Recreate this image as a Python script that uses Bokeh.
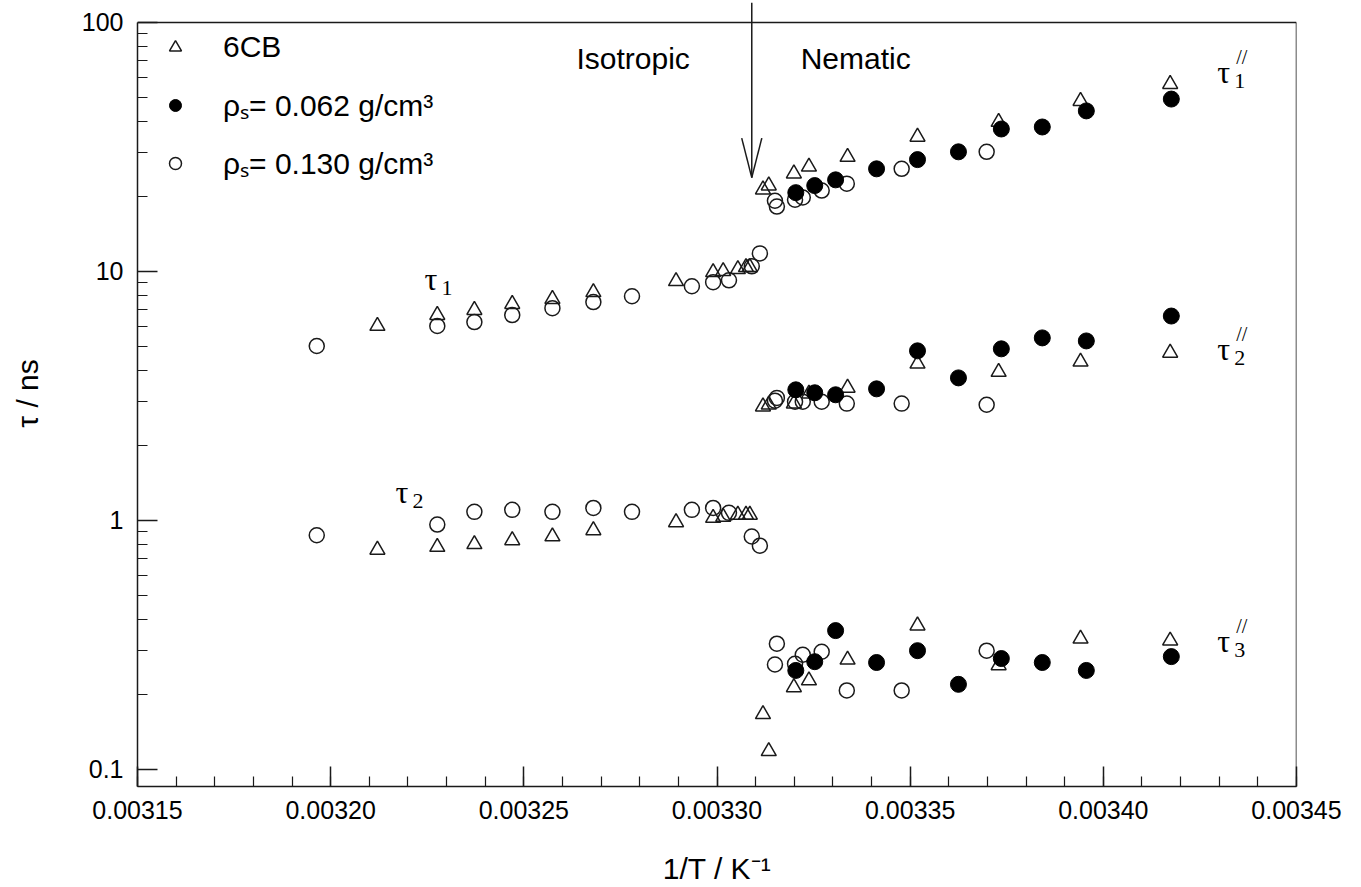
import numpy as np
from bokeh.plotting import figure
from bokeh.models import (Range1d, FixedTicker, PrintfTickFormatter, CustomJSTickFormatter,
                          Legend, LegendItem)
from bokeh.core.properties import value
from bokeh.embed import file_html
from bokeh.resources import INLINE

# ---------------- data (1/T in K^-1, tau in ns) ----------------
# 6CB (open triangles)
cb_iso_x = [0.0032121, 0.0032276, 0.0032372, 0.0032470, 0.0032574, 0.0032680,
            0.0032894, 0.0032990, 0.0033016, 0.0033054, 0.0033075, 0.0033085]
cb_iso_tau1 = [6.03, 6.67, 6.98, 7.38, 7.73, 8.24, 9.12, 9.91, 10.0, 10.19, 10.38, 10.38]
cb_iso_tau2 = [0.76, 0.78, 0.80, 0.83, 0.86, 0.91, 0.98, 1.02, 1.03, 1.05, 1.05, 1.05]
cb_nem_x = [0.0033119, 0.0033134, 0.0033199, 0.0033238, 0.0033338, 0.0033519,
            0.0033729, 0.0033941, 0.0034173]
cb_nem_tau1 = [21.3, 22.1, 24.7, 26.3, 28.8, 34.7, 39.8, 48.3, 56.5]
cb_nem_tau2 = [2.86, 2.91, 2.94, 3.22, 3.40, 4.25, 3.94, 4.33, 4.70]
cb_nem_tau3 = [0.166, 0.118, 0.213, 0.227, 0.275, 0.377, 0.261, 0.334, 0.328]

# rho_s = 0.062 g/cm3 (filled circles)
s062_x = [0.0033204, 0.0033253, 0.0033307, 0.0033413, 0.0033519, 0.0033625,
          0.0033736, 0.0033842, 0.0033956, 0.0034176]
s062_tau1 = [20.7, 22.1, 23.3, 25.8, 28.1, 30.2, 37.3, 38.0, 44.1, 49.2]
s062_tau2 = [3.34, 3.25, 3.19, 3.37, 4.79, 3.73, 4.88, 5.40, 5.25, 6.61]
s062_tau3 = [0.249, 0.270, 0.360, 0.268, 0.299, 0.219, 0.278, 0.268, 0.249, 0.283]

# rho_s = 0.130 g/cm3 (open circles)
s130_iso_x = [0.0031964, 0.0032276, 0.0032372, 0.0032470, 0.0032574, 0.0032680, 0.0032780,
              0.0032935, 0.0032990, 0.0033031, 0.0033090, 0.0033111]
s130_iso_tau1 = [5.01, 6.03, 6.25, 6.67, 7.11, 7.52, 7.94, 8.71, 9.04, 9.20, 10.47, 11.8]
s130_iso_tau2 = [0.87, 0.96, 1.08, 1.10, 1.08, 1.12, 1.08, 1.10, 1.12, 1.07, 0.86, 0.79]
s130_nem_x = [0.0033150, 0.0033155, 0.0033202, 0.0033222, 0.0033271, 0.0033336,
              0.0033478, 0.0033698]
s130_nem_tau1 = [19.2, 18.2, 19.4, 19.8, 21.1, 22.5, 25.8, 30.2]
s130_nem_tau2 = [3.02, 3.10, 2.99, 2.99, 2.99, 2.94, 2.94, 2.91]
s130_nem_tau3 = [0.263, 0.319, 0.265, 0.288, 0.296, 0.207, 0.207, 0.299]

# axis ticks
x_major = [0.00315, 0.00320, 0.00325, 0.00330, 0.00335, 0.00340, 0.00345]
y_major = [0.1, 1, 10, 100]
x_lo, x_hi = 0.00315, 0.00345
y_lo, y_hi = 0.0851, 100.0

# annotations
legend_labels = ["6CB", "\u03c1\u209b= 0.062 g/cm\u00b3", "\u03c1\u209b= 0.130 g/cm\u00b3"]
phase_text = ["Isotropic", "Nematic"]
phase_x = [0.0032783, 0.0033359]
phase_y = [71.8, 71.8]
transition_x = 0.0033090
arrow_top_y = 120.0
arrow_tip_y = 23.8
tau_sub = ["1", "2", "1", "2", "3"]
tau_x = [0.0032243, 0.0032168, 0.0034295, 0.0034295, 0.0034295]
tau_y = [9.29, 1.294, 63.1, 4.88, 0.328]
tau_sup = ["", "", "//", "//", "//"]

INK = "#1a1a1a"
SANS = "Liberation Sans"
SERIF = "Liberation Serif"

# frame reaches the top of the canvas so the arrow can rise above the box
top_pad = 10 ** (22 / 250)
p = figure(width=1361, height=887, y_axis_type="log",
           x_range=Range1d(x_lo - 1e-10, x_hi + 1e-10),
           y_range=Range1d(y_lo, y_hi * top_pad),
           output_backend="svg", toolbar_location=None,
           min_border_left=137, min_border_right=65, min_border_top=0, min_border_bottom=98)
p.xgrid.visible = False
p.ygrid.visible = False
p.outline_line_color = None
p.background_fill_color = "white"
p.border_fill_color = "white"

minor_x = [round(0.00315 + i * 0.00001, 6) for i in range(31)]
p.xaxis.ticker = FixedTicker(ticks=x_major, minor_ticks=minor_x)
p.xaxis.formatter = PrintfTickFormatter(format="%.5f")
minor_y = [m * d for d in (0.1, 1, 10) for m in range(2, 10)]
p.yaxis.ticker = FixedTicker(ticks=y_major, minor_ticks=minor_y)
p.yaxis.formatter = CustomJSTickFormatter(code="return tick.toString()")
p.yaxis.bounds = (y_lo, y_hi)

for ax in (p.xaxis[0], p.yaxis[0]):
    ax.axis_line_color = INK
    ax.axis_line_width = 1.5
    ax.major_tick_line_color = INK
    ax.minor_tick_line_color = INK
    ax.major_tick_line_width = 1.5
    ax.minor_tick_line_width = 1.2
    ax.major_tick_in = 20
    ax.major_tick_out = 0
    ax.minor_tick_in = 10
    ax.minor_tick_out = 0
    ax.major_label_text_font = SANS
    ax.major_label_text_font_size = "25px"
    ax.major_label_text_color = "black"
    ax.axis_label_text_font = SANS
    ax.axis_label_text_font_size = "30px"
    ax.axis_label_text_font_style = "normal"
    ax.axis_label_text_color = "black"

p.xaxis.axis_label = "1/T / K\u207b\u00b9"
p.yaxis.axis_label = "\u03c4 / ns"
p.xaxis.major_label_standoff = 14
p.yaxis.major_label_standoff = 14
p.xaxis.axis_label_standoff = 30
p.yaxis.axis_label_standoff = 35

# top and right sides of the box
p.segment(x0=[x_lo, x_hi], y0=[y_hi, y_lo], x1=[x_hi, x_hi], y1=[y_hi, y_hi],
          line_color=INK, line_width=1.5)

tri = dict(marker="triangle", size=15, line_color=INK, line_width=1.5, fill_color=None)
opc = dict(marker="circle", size=15, line_color=INK, line_width=1.5, fill_color=None)
fil = dict(marker="circle", size=16, line_color="black", line_width=1, fill_color="black")

r_cb = p.scatter(cb_iso_x + cb_nem_x, cb_iso_tau1 + cb_nem_tau1, **tri)
p.scatter(cb_iso_x + cb_nem_x, cb_iso_tau2 + cb_nem_tau2, **tri)
p.scatter(cb_nem_x, cb_nem_tau3, **tri)

r_130 = p.scatter(s130_iso_x + s130_nem_x, s130_iso_tau1 + s130_nem_tau1, **opc)
p.scatter(s130_iso_x + s130_nem_x, s130_iso_tau2 + s130_nem_tau2, **opc)
p.scatter(s130_nem_x, s130_nem_tau3, **opc)

r_062 = p.scatter(s062_x, s062_tau1, **fil)
p.scatter(s062_x, s062_tau2, **fil)
p.scatter(s062_x, s062_tau3, **fil)

# legend (location measured from the bottom-left of the frame)
legend = Legend(items=[LegendItem(label=legend_labels[0], renderers=[r_cb]),
                       LegendItem(label=legend_labels[1], renderers=[r_062]),
                       LegendItem(label=legend_labels[2], renderers=[r_130])],
                location=(23, 603), orientation="vertical",
                glyph_width=30, glyph_height=40, label_height=40, spacing=17,
                padding=0, margin=0, label_standoff=33,
                label_text_font=SANS, label_text_font_size="30px",
                label_text_color="black",
                border_line_alpha=0, background_fill_alpha=0)
p.add_layout(legend)

# phase labels
p.text(x=phase_x, y=phase_y, text=phase_text, text_font=value(SANS),
       text_font_size="30px", text_align="center", text_baseline="alphabetic",
       text_color="black")

# transition arrow (open head)
head_dx = 2.6e-6
head_y = 34.3
p.segment(x0=[transition_x, transition_x - head_dx, transition_x + head_dx],
          y0=[arrow_top_y, head_y, head_y],
          x1=[transition_x, transition_x, transition_x],
          y1=[arrow_tip_y, arrow_tip_y, arrow_tip_y],
          line_color=INK, line_width=1.5)

# tau labels
p.text(x=tau_x, y=tau_y, text=["\u03c4"] * len(tau_x), text_font=value(SERIF),
       text_font_size="32px", text_align="left", text_baseline="alphabetic",
       text_color="black")
p.text(x=tau_x, y=tau_y, text=tau_sub, text_font=value(SERIF),
       text_font_size="22px", text_align="left", text_baseline="alphabetic",
       text_color="black", x_offset=17, y_offset=9)
p.text(x=tau_x, y=tau_y, text=tau_sup, text_font=value(SERIF),
       text_font_size="20px", text_align="left", text_baseline="alphabetic",
       text_color="black", x_offset=19, y_offset=-15)

open("out.html", "w").write(file_html(p, INLINE))
